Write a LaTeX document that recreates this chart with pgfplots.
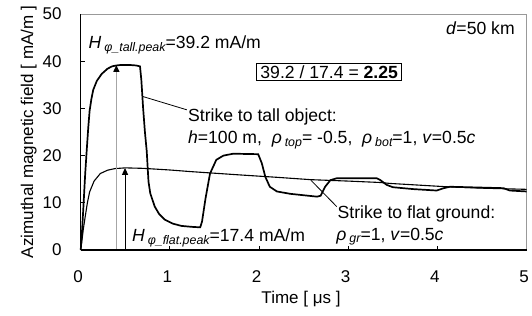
\documentclass[border=0pt]{standalone}
\usepackage{fontspec}
\setmainfont{Liberation Sans}
\usepackage{pgfplots}
\pgfplotsset{compat=1.18}
\usetikzlibrary{arrows.meta}
\newcommand{\sub}[1]{\,\raisebox{-0.3ex}{\fontsize{6.2}{7}\selectfont\itshape #1}}
\tikzset{annot/.style={anchor=base west, inner sep=0, font=\fontsize{8.8}{10}\selectfont}}

\begin{document}
\fontsize{8.5}{10}\selectfont
\begin{tikzpicture}
\useasboundingbox (-40.35pt,-33pt) rectangle (225.65pt,125pt);
\begin{axis}[
  scale only axis, width=223pt, height=118pt,
  xmin=0, xmax=5, ymin=0, ymax=50,
  xtick={0,1,2,3,4,5}, ytick={0,10,20,30,40,50},
  xtick pos=bottom, ytick pos=left,
  tick align=inside,
  major tick length=2pt,
  tick style={black, line width=0.4pt},
  axis line style={draw=gray!80, line width=0.5pt},
  ticklabel style={font=\fontsize{8.5}{10}\selectfont},
  /pgf/number format/assume math mode=true,
  xticklabel style={yshift=-7.5pt, xshift=-1.3pt},
  yticklabel style={xshift=-6.5pt},
  xlabel={Time [ μs ]},
  ylabel={Azimuthal magnetic field [ mA/m ]},
  every axis x label/.style={at={(axis description cs:0.494,-0.226)}, anchor=base},
  every axis y label/.style={at={(axis description cs:-0.1166,0.5)}, anchor=center, rotate=90},
  clip=false,
]
% Strike to tall object
\addplot[black, line width=0.85pt, no markers] coordinates {
(0,0) (0.015,4) (0.03,9) (0.05,16) (0.067,21) (0.085,26) (0.1,29.5) (0.12,32)
(0.14,33.9) (0.18,35.8) (0.235,37.3) (0.3,38.4) (0.35,38.9) (0.4,39.1) (0.45,39.2)
(0.55,39.2) (0.62,39.1) (0.665,38.9) (0.68,36) (0.70,30) (0.72,25) (0.74,21)
(0.76,14.5) (0.78,12) (0.83,9.2) (0.88,7.6) (0.945,6.4) (1.03,5.6) (1.13,5.1)
(1.25,4.9) (1.34,4.8) (1.36,6) (1.40,11) (1.45,16.2) (1.52,19.1) (1.6,20.0)
(1.71,20.4) (1.99,20.3) (2.03,18.4) (2.07,15.5) (2.12,13.4) (2.2,12.4) (2.35,11.9)
(2.5,11.6) (2.65,11.3) (2.69,11.5) (2.74,13.4) (2.80,14.8) (2.87,15.2) (3.32,15.2)
(3.36,14.8) (3.43,13.8) (3.50,13.3) (3.73,12.9) (3.99,12.6) (4.07,13.1) (4.14,13.4)
(4.74,13.1) (4.81,12.6) (5,12.4)
};
% Strike to flat ground
\addplot[black, line width=0.55pt, no markers] coordinates {
(0,0) (0.01,1.4) (0.03,4.5) (0.05,7) (0.075,10) (0.1,12.3) (0.15,14.6) (0.22,16.2)
(0.3,16.9) (0.385,17.25) (0.5,17.4) (0.7,17.3) (1.0,16.95) (1.24,16.6) (1.79,15.9)
(2.2,15.4) (2.58,14.9) (3.0,14.6) (3.36,14.3) (3.47,14.1) (4.1,13.4) (4.5,13.1) (5,12.85)
};
% peak arrows
\addplot[gray!70, line width=0.7pt, -{Triangle[length=3.5pt,width=3pt,color=black]}] coordinates {(0.4,0) (0.4,39.2)};
\addplot[black, line width=0.5pt, -{Triangle[length=3.5pt,width=3pt]}] coordinates {(0.497,0) (0.497,17.4)};
% leader lines
\addplot[black, line width=0.4pt] coordinates {(0.70,32.5) (1.19,29.7)};
\addplot[black, line width=0.4pt] coordinates {(2.58,14.8) (2.87,9.2)};
% axis lines
\draw[black, line width=1pt] (rel axis cs:0,0) -- (rel axis cs:1,0);
\draw[black, line width=0.5pt] (rel axis cs:0,0) -- (rel axis cs:0,1);
% texts
\node[annot] at (axis cs:0.085,42.7) {\textit{H}\sub{φ\_tall.peak}=39.2 mA/m};
\node[annot, anchor=base east] at (axis cs:4.87,45.7) {\textit{d}=50 km};
\node[draw, line width=0.5pt, inner xsep=2pt, inner ysep=1pt, anchor=base, font=\fontsize{8.8}{10}\selectfont] at (axis cs:2.786,36.3) {39.2 / 17.4 = \textbf{2.25}};
\node[annot] at (axis cs:1.20,27.3) {Strike to tall object:};
\node[annot] at (axis cs:1.20,22.6) {\textit{h}=100 m,\ \ \textit{ρ}\sub{top}= -0.5,\ \ \textit{ρ}\sub{bot}=1, \textit{v}=0.5\textit{c}};
\node[annot] at (axis cs:2.877,6.7) {Strike to flat ground:};
\node[annot] at (axis cs:2.863,2.1) {\textit{ρ}\sub{gr}=1, \textit{v}=0.5\textit{c}};
\node[annot] at (axis cs:0.572,1.76) {\textit{H}\sub{φ\_flat.peak}=17.4 mA/m};
\end{axis}
\end{tikzpicture}
\end{document}
